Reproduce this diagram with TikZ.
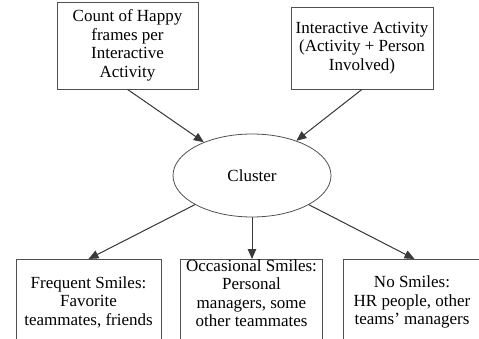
\documentclass[tikz,border=0pt]{standalone}
\usepackage{fontspec}
\setmainfont{Liberation Serif}
\usetikzlibrary{arrows.meta,shapes.geometric}
\definecolor{linegray}{HTML}{3A3A3A}
\definecolor{boxgray}{HTML}{505050}
\begin{document}
\begin{tikzpicture}[x=1pt,y=-1pt,
  every node/.style={font=\fontsize{17}{18.5}\selectfont, text=black},
  boxnode/.style={draw=boxgray, line width=0.8pt, rectangle, inner sep=0pt, align=center},
  ellnode/.style={draw=boxgray, line width=0.8pt, ellipse, inner sep=0pt, minimum width=158, minimum height=83},
  txt/.style={align=center, inner sep=0pt},
  conn/.style={draw=linegray, line width=1pt, -{Triangle[length=10pt,width=8.5pt]}, fill=linegray}
]
\useasboundingbox (0,0) rectangle (479,339);
\clip (0,0) rectangle (479,339);
\node[boxnode, minimum width=141, minimum height=87] (tl) at (127.5,45.5)
  {Count of Happy\\frames per\\Interactive\\Activity};
\node[boxnode, minimum width=142, minimum height=82] (tr) at (362,48)
  {Interactive Activity\\(Activity + Person\\Involved)};
\node[ellnode] (cl) at (252,175.5) {Cluster};
\node[boxnode, minimum width=145, minimum height=86, anchor=north] (fb) at (88.5,259) {};
\node[boxnode, minimum width=142, minimum height=86, anchor=north] (ob) at (251.5,259) {};
\node[boxnode, minimum width=143, minimum height=86, anchor=north] (nb) at (414.5,259) {};
\node[txt] (fbt) at (88.5,302) {Frequent Smiles:\\Favorite\\teammates, friends};
\node[txt] (obt) at (251.5,293) {Occasional Smiles:\\Personal\\managers, some\\other teammates};
\node[txt] (nbt) at (412,302) {No Smiles:\\HR people, other\\teams’ managers};
\draw[conn] (tl.south) -- (cl);
\draw[conn] (tr.south) -- (cl);
\draw[conn] (cl) -- (fb.north);
\draw[conn] (cl.south) -- (cl.south |- ob.north);
\draw[conn] (cl) -- (nb.north);
\end{tikzpicture}
\end{document}
